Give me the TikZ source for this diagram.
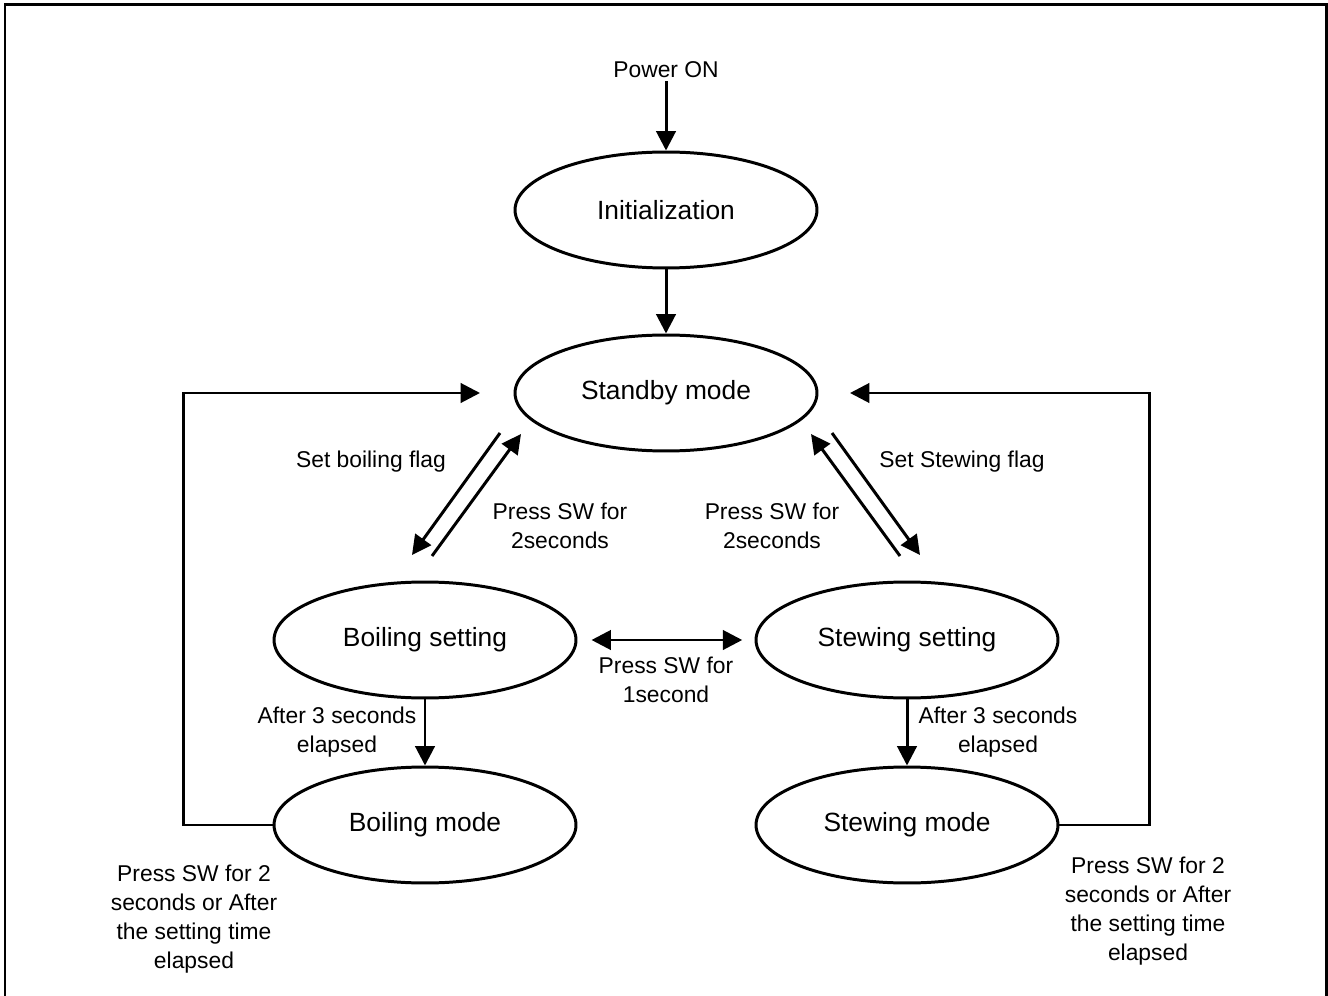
\documentclass[tikz,border=0pt]{standalone}
\usepackage{fontspec}
\setmainfont{Liberation Sans}
\usetikzlibrary{arrows.meta, positioning, shapes.geometric}
\definecolor{cblack}{HTML}{000000}
\tikzset{
  every picture/.style={line width=1.7pt},
  state/.style={ellipse, draw=cblack, minimum width=6.04cm, minimum height=2.32cm, inner sep=0pt, font=\fontsize{15}{18}\selectfont},
  lbl/.style={font=\fontsize{13}{16.5}\selectfont, align=center, inner sep=1pt},
  arrow/.style={-{Triangle[length=11pt, width=11pt]}, draw=cblack, line width=1.7pt},
  twoway/.style={{Triangle[length=11pt, width=11pt]}-{Triangle[length=11pt, width=11pt]}, draw=cblack, line width=1.7pt},
}

\begin{document}
\begin{tikzpicture}[x=0.02cm, y=-0.02cm]
  \useasboundingbox (0,0) rectangle (1328,996);
  \draw (5,1000) -- (5,5) -- (1326,5) -- (1326,1000);
  % ---- states ----
  \node[lbl] (power) at (666,70) {Power ON};
  \node[state] (init) at (666,210) {Initialization};
  \node[state] (standby) at (666,393) {Standby mode};
  \node[state] (bset) at (425,640) {Boiling setting};
  \node[state] (sset) at (907,640) {Stewing setting};
  \node[state] (bmode) at (425,825) {Boiling mode};
  \node[state] (smode) at (907,825) {Stewing mode};
  % ---- free ends of the slanted pairs and the returns ----
  \coordinate (bdownA) at (500,433);
  \coordinate (bdownB) at (412,555);
  \coordinate (bupA) at (432,556);
  \coordinate (bupB) at (521,434);
  \coordinate (sdownA) at (832,433);
  \coordinate (sdownB) at (920,555);
  \coordinate (supA) at (900,556);
  \coordinate (supB) at (811,434);
  \coordinate (lret) at (480,393);
  \coordinate (rret) at (850,393);
  % ---- connectors ----
  \draw[arrow] (power.south) -- (init.north);
  \draw[arrow] (init) -- (standby);
  \draw[arrow] (bdownA) -- (bdownB);
  \draw[arrow] (bupA) -- (bupB);
  \draw[arrow] (sdownA) -- (sdownB);
  \draw[arrow] (supA) -- (supB);
  \draw[twoway, shorten <=8pt, shorten >=7pt] (bset.east) -- (sset.west);
  \draw[arrow] (bset) -- (bmode);
  \draw[arrow] (sset) -- (smode);
  \draw[arrow] (bmode.west) -- ++(-89,0) |- (lret);
  \draw[arrow] (smode.east) -- ++(90,0) |- (rret);
  % ---- labels ----
  \node[lbl] (setb) at (371,462) {Set boiling flag};
  \node[lbl] (pressb) at (560,526) {Press SW for\\2seconds};
  \node[lbl] (presss) at (772,526) {Press SW for\\2seconds};
  \node[lbl] (sets) at (962,462) {Set Stewing flag};
  \node[lbl] (pressmid) at (666,680) {Press SW for\\1second};
  \node[lbl] (afterb) at (337,732) {After 3 seconds\\elapsed};
  \node[lbl] (afters) at (998,732) {After 3 seconds\\elapsed};
  \node[lbl] (endb) at (194,919) {Press SW for 2\\seconds or After\\the setting time\\elapsed};
  \node[lbl] (ends) at (1148,911) {Press SW for 2\\seconds or After\\the setting time\\elapsed};
\end{tikzpicture}
\end{document}
